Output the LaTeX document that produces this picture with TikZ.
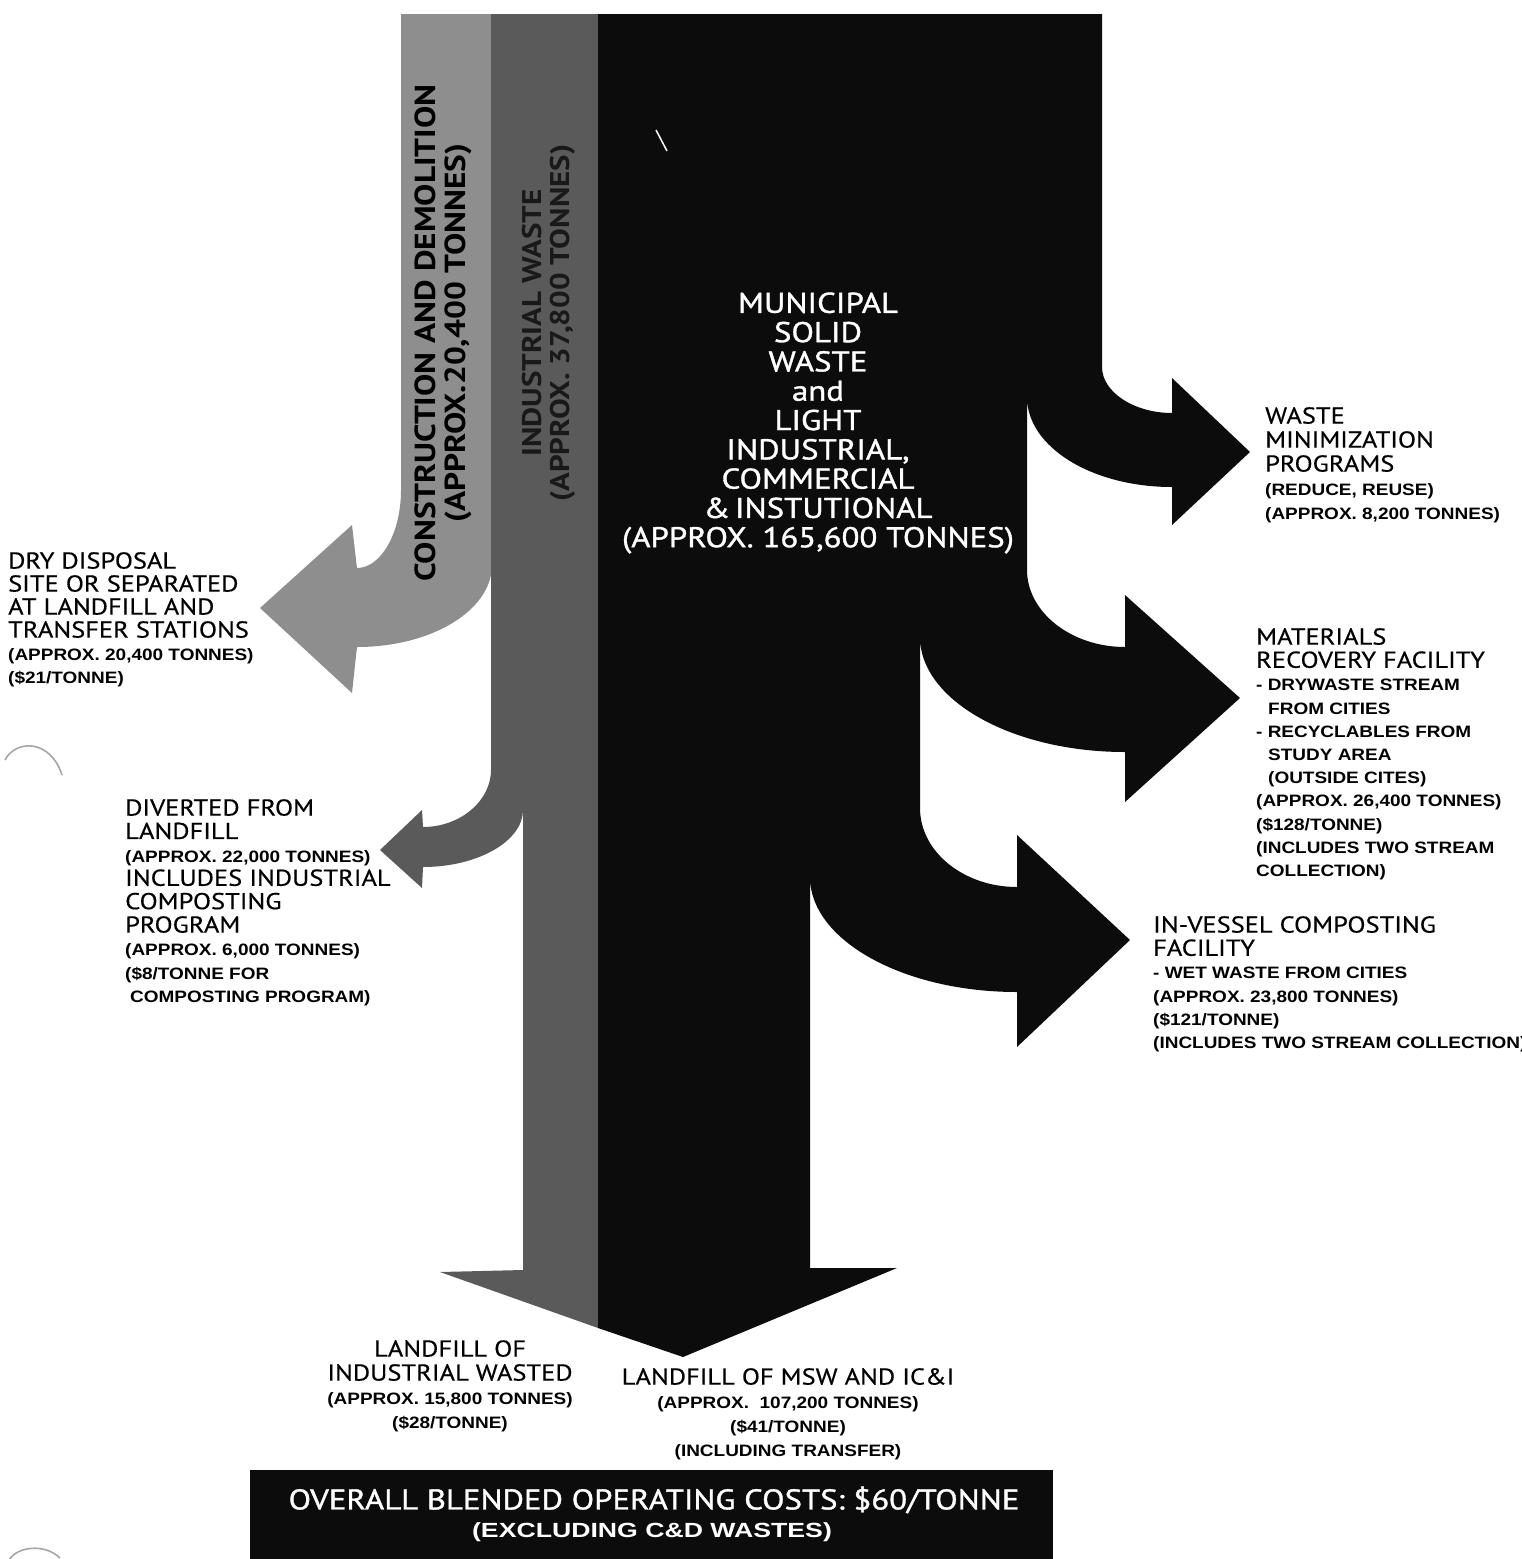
\documentclass[tikz,border=0pt]{standalone}
\usepackage{fontspec}
\setmainfont{PT Sans}
\newfontfamily\capfont[FakeStretch=1.15,FakeBold=0.4]{PT Sans}
\newfontfamily\mswfont[FakeStretch=1.15,FakeBold=1.2]{PT Sans}
\newfontfamily\vfont[FakeStretch=1.15]{PT Sans}
\newfontfamily\smfont[FakeStretch=1.15]{Liberation Sans}
\newfontfamily\smwfont[FakeStretch=1.3]{Liberation Sans}
\newcommand\capL[1]{\capfont\fontsize{23}{#1}\selectfont}
\newcommand\smL[1]{\smfont\bfseries\fontsize{16.5}{#1}\selectfont}
\definecolor{cdgray}{HTML}{8E8E8E}
\definecolor{indgray}{HTML}{5A5A5A}
\definecolor{mswblack}{HTML}{0C0C0C}
\begin{document}
\begin{tikzpicture}[x=1pt,y=-1pt,
  lbl/.style={inner sep=0pt, anchor=north west, align=left, text=black},
  clbl/.style={inner sep=0pt, anchor=north, align=center, text=black},
  vlbl/.style={rotate=90, align=center, inner sep=0pt},
  punch/.style={draw=black!35, line width=1.6pt}
]
\useasboundingbox (0,0) rectangle (1522,1559);
\fill[white] (0,0) rectangle (1522,1559);

% construction & demolition stream
\fill[cdgray] (401,14) -- (492,14) -- (492,565)
  .. controls (492,610) and (432,647) .. (357,647)
  -- (352,693) -- (260,608) -- (352,525) -- (357,568)
  .. controls (381,568) and (401,533) .. (401,490) -- cycle;

% industrial waste stream
\fill[indgray] (492,14) -- (598,14) -- (598,1328) -- (440,1272) -- (523,1270)
  -- (523,810) .. controls (523,841) and (478,867) .. (423,867)
  -- (422,888) -- (380,850) -- (422,810) -- (423,827)
  .. controls (460,827) and (491,801) .. (491,770) -- (491,14) -- cycle;

% municipal solid waste stream
\fill[mswblack] (598,14) -- (1102,14) -- (1102,367)
  .. controls (1102,392) and (1134,413) .. (1172,413)
  -- (1172,378) -- (1250,452) -- (1172,525) -- (1172,487)
  .. controls (1092,487) and (1027,447) .. (1027,397)
  -- (1027,570) .. controls (1027,612) and (1071,647) .. (1125,647)
  -- (1125,595) -- (1240,698) -- (1125,802) -- (1125,752)
  .. controls (1012,752) and (920,700) .. (920,637)
  -- (920,808) .. controls (920,852) and (964,887) .. (1017,887)
  -- (1017,835) -- (1130,940) -- (1017,1047) -- (1017,992)
  .. controls (903,992) and (810,940) .. (810,877)
  -- (810,1268) -- (897,1268) -- (683,1357) -- (598,1328) -- cycle;

\draw[white, line width=1.5pt] (656,130) -- (667,151);

% column labels
\node[vlbl, text=black, font=\vfont\bfseries\fontsize{29}{30}\selectfont] (cd) at (443,333) {CONSTRUCTION AND DEMOLITION\\(APPROX.20,400 TONNES)};
\node[vlbl, text=black!90, font=\vfont\bfseries\fontsize{27}{28}\selectfont] (iw) at (549,323) {INDUSTRIAL WASTE\\(APPROX. 37,800 TONNES)};
\node[align=center, text=white, inner sep=0pt, font=\mswfont\fontsize{28.6}{29.3}\selectfont] (msw) at (818,423)
  {MUNICIPAL\\SOLID\\WASTE\\and\\LIGHT\\INDUSTRIAL,\\COMMERCIAL\\\&\,INSTUTIONAL\\(APPROX. 165,600 TONNES)};

% destination labels
\node[lbl, font={\capL{23}}] (dry) at (8,552) {DRY DISPOSAL\\SITE OR SEPARATED\\AT LANDFILL AND\\TRANSFER STATIONS\\\smL{23}(APPROX. 20,400 TONNES)\\\smL{23}(\$21/TONNE)};
\node[lbl, font={\capL{23.4}}] (div) at (125,799) {DIVERTED FROM\\LANDFILL\\\smL{23.4}(APPROX. 22,000 TONNES)\\INCLUDES INDUSTRIAL\\COMPOSTING\\PROGRAM\\\smL{23.4}(APPROX. 6,000 TONNES)\\\smL{23.4}(\$8/TONNE FOR\\\smL{23.4}\hspace*{5pt}COMPOSTING PROGRAM)};
\node[lbl, font={\capL{24}}] (wmin) at (1265,407) {WASTE\\MINIMIZATION\\PROGRAMS\\\smL{24}(REDUCE, REUSE)\\\smL{24}(APPROX. 8,200 TONNES)};
\node[lbl, font={\capL{23.2}}] (mrf) at (1256,628) {MATERIALS\\RECOVERY FACILITY\\\smL{23.2}- DRYWASTE STREAM\\\smL{23.2}\hspace*{12pt}FROM CITIES\\\smL{23.2}- RECYCLABLES FROM\\\smL{23.2}\hspace*{12pt}STUDY AREA\\\smL{23.2}\hspace*{12pt}(OUTSIDE CITES)\\\smL{23.2}(APPROX. 26,400 TONNES)\\\smL{23.2}(\$128/TONNE)\\\smL{23.2}(INCLUDES TWO STREAM\\\smL{23.2}COLLECTION)};
\node[lbl, font={\capL{23.2}}] (ivc) at (1153,916) {IN-VESSEL COMPOSTING\\FACILITY\\\smL{23.2}- WET WASTE FROM CITIES\\\smL{23.2}(APPROX. 23,800 TONNES)\\\smL{23.2}(\$121/TONNE)\\\smL{23.2}(INCLUDES TWO STREAM COLLECTION)};
\node[clbl, font={\capL{24}}] (lfi) at (450,1340) {LANDFILL OF\\INDUSTRIAL WASTED\\\smL{24}(APPROX. 15,800 TONNES)\\\smL{24}(\$28/TONNE)};
\node[clbl, font={\capL{24}}] (lfm) at (788,1368) {LANDFILL OF MSW AND IC\&I\\\smL{24}(APPROX.\ \ 107,200 TONNES)\\\smL{24}(\$41/TONNE)\\\smL{24}(INCLUDING TRANSFER)};

% cost banner
\node[fill=mswblack, minimum width=803pt, minimum height=95pt, anchor=north west, inner sep=0pt] (costbox) at (250,1470) {};
\node[text=white, inner sep=0pt, font=\mswfont\fontsize{28.5}{30}\selectfont] (cost) at (654,1500) {OVERALL BLENDED OPERATING COSTS: \$60/TONNE};
\node[text=white, inner sep=0pt, font=\smwfont\bfseries\fontsize{20.5}{22}\selectfont] (excl) at (652,1532) {(EXCLUDING C\&D WASTES)};

% punch-hole marks
\draw[punch] (5,760) .. controls (15,740) and (50,738) .. (62,775);
\draw[punch] (8,1562) .. controls (15,1546) and (45,1543) .. (60,1558);
\end{tikzpicture}
\end{document}
